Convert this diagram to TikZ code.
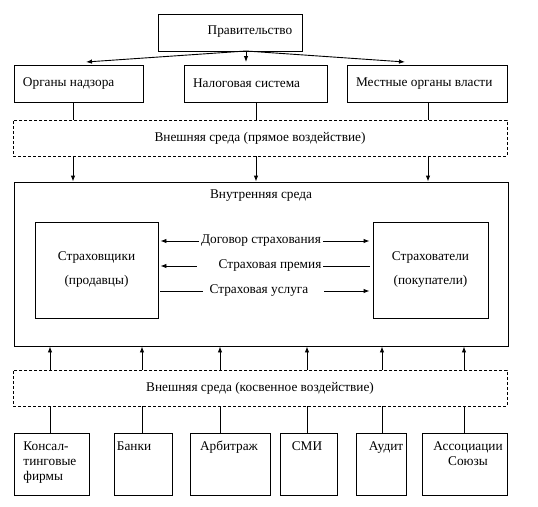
\documentclass[tikz,border=0pt]{standalone}
\usepackage{fontspec}
\setmainfont{Liberation Serif}
\usetikzlibrary{arrows.meta}

\tikzset{
  box/.style={draw, line width=0.9pt, inner sep=0pt},
  extbox/.style={draw, dash pattern=on 3pt off 2pt, line width=0.7pt, minimum width=494, minimum height=36, inner sep=0pt},
  lbl/.style={inner sep=0pt},
  flow/.style={inner sep=1.5pt},
  arr/.style={-{Latex[length=6pt,width=4.5pt]}},
}

\begin{document}
\begin{tikzpicture}[x=1pt, y=-1pt, line width=0.9pt, font=\fontsize{13.3}{15}\selectfont]
\useasboundingbox (0,0) rectangle (538,506);

% government and its bodies
\node[box, minimum width=144, minimum height=37] (gov) at (230,32.5) {};
\node[lbl] (govT) at (250,32) {Правительство};
\node[box, minimum width=129, minimum height=37] (nadzor) at (78.5,83.5) {};
\node[box, minimum width=143, minimum height=37] (nalog) at (255.5,83.5) {};
\node[box, minimum width=160, minimum height=37] (mestn) at (427,83.5) {};
\node[lbl, anchor=west] (nadzorT) at ([xshift=9pt]nadzor.west) {Органы надзора};
\node[lbl, anchor=west] (nalogT) at ([xshift=9pt]nalog.west) {Налоговая система};
\node[lbl, anchor=west] (mestnT) at ([xshift=9pt]mestn.west) {Местные органы власти};

\coordinate (gs) at (246,51);
\coordinate (t1) at (86,62);
\coordinate (t2) at (246,62);
\coordinate (t3) at (405,62);
\draw[arr] (gs) -- (t1);
\draw[arr] (gs) -- (t2);
\draw[arr] (gs) -- (t3);

% external environment, direct
\node[extbox] (ext1) at (260,138) {Внешняя среда (прямое воздействие)};

% internal environment
\node[box, minimum width=494, minimum height=164] (inner) at (261,264) {};
\node[lbl] (innerT) at (261,196) {Внутренняя среда};

\foreach \x in {73,256,428} {
  \draw (\x,0 |- nadzor.south) -- (\x,0 |- ext1.north);
  \draw[arr] (\x,0 |- ext1.south) -- (\x,0 |- inner.north);
}

\node[box, minimum width=123, minimum height=96, align=center, font=\fontsize{13.3}{24}\selectfont] (insurer) at (96.5,270) {Страховщики\\(продавцы)};
\node[box, minimum width=115, minimum height=96, align=center, font=\fontsize{13.3}{24}\selectfont] (insured) at (430.5,270) {Страхователи\\(покупатели)};

\node[flow] (dog) at (261,241) {Договор страхования};
\node[flow] (prem) at (270,266) {Страховая премия};
\node[flow] (usl) at (259,291) {Страховая услуга};

\draw[arr, shorten >=2pt] (dog.west) -- (dog.west -| insurer.east);
\draw[arr, shorten >=3pt] (dog.east) -- (dog.east -| insured.west);
\draw[arr, shorten >=2pt] ([xshift=-20pt]prem.west) -- (prem.west -| insurer.east);
\draw[shorten >=3pt] (prem.east) -- (prem.east -| insured.west);
\draw[shorten >=2pt] ([xshift=-5pt]usl.west) -- (usl.west -| insurer.east);
\draw[arr, shorten >=3pt] ([xshift=14pt]usl.east) -- (usl.east -| insured.west);

% external environment, indirect
\node[extbox] (ext2) at (260,388) {Внешняя среда (косвенное воздействие)};

\node[box, minimum width=75, minimum height=62] (consult) at (51.5,464) {};
\node[box, minimum width=58, minimum height=62] (banks) at (143,464) {};
\node[box, minimum width=80, minimum height=62] (arb) at (230,464) {};
\node[box, minimum width=57, minimum height=62] (smi) at (308.5,464) {};
\node[box, minimum width=50, minimum height=62] (audit) at (381,464) {};
\node[box, minimum width=85, minimum height=62] (assoc) at (464.5,464) {};

\node[lbl, anchor=north west, align=left] (consultT) at (23,441) {Консал-\\тинговые\\фирмы};
\node[lbl, anchor=north] (banksT) at (134,441) {Банки};
\node[lbl, anchor=north] (arbT) at (229,441) {Арбитраж};
\node[lbl, anchor=north] (smiT) at (307,441) {СМИ};
\node[lbl, anchor=north] (auditT) at (386,441) {Аудит};
\node[lbl, anchor=north, align=center] (assocT) at (468,441) {Ассоциации\\Союзы};

\foreach \x in {50,142,220,307,382,464} {
  \draw[arr] (\x,0 |- ext2.north) -- (\x,0 |- inner.south);
  \draw (\x,0 |- consult.north) -- (\x,0 |- ext2.south);
}
\end{tikzpicture}
\end{document}
